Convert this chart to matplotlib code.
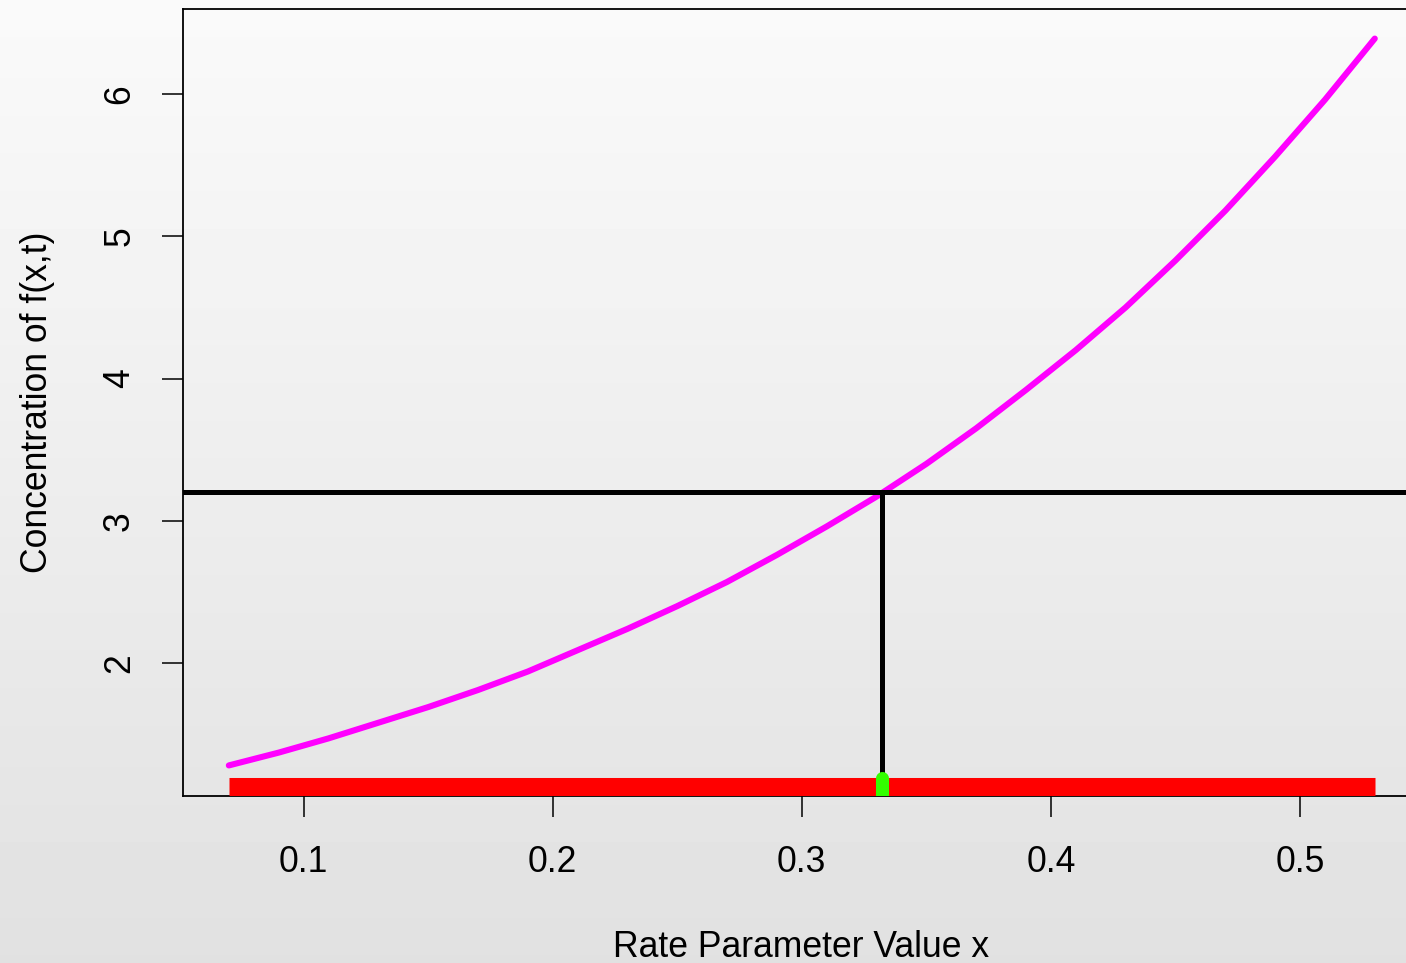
import numpy as np
import matplotlib
matplotlib.use("Agg")
import matplotlib.pyplot as plt

plt.rcParams['font.family'] = ['Liberation Sans', 'DejaVu Sans']

# curve values
rate_x = [0.07, 0.09, 0.11, 0.13, 0.15, 0.17, 0.19, 0.21, 0.23, 0.25, 0.27, 0.29,
          0.31, 0.33, 0.35, 0.37, 0.39, 0.41, 0.43, 0.45, 0.47, 0.49, 0.51, 0.53]
conc_y = [1.28, 1.37, 1.47, 1.58, 1.69, 1.81, 1.94, 2.09, 2.24, 2.40, 2.57, 2.76,
          2.96, 3.17, 3.40, 3.65, 3.92, 4.20, 4.50, 4.83, 5.18, 5.56, 5.96, 6.39]

target_level = 3.2
target_x = 0.3323
bar_range = [0.07, 0.53]
bar_level = 1.125
marker_top = 1.195

x_ticks = [0.1, 0.2, 0.3, 0.4, 0.5]
y_ticks = [2, 3, 4, 5, 6]

W, H = 1406, 963
fig = plt.figure(figsize=(W / 100, H / 100), dpi=100)

# gradient background
bg = fig.add_axes([0, 0, 1, 1], zorder=-10)
grad = np.linspace(250, 225, 256)[:, None] / 255.0
bg.imshow(np.repeat(grad, 2, axis=1), cmap='gray', vmin=0, vmax=1,
          aspect='auto', extent=[0, 1, 0, 1])
bg.axis('off')

left, right, top, bottom = 183, 1420.6, 9, 796
ax = fig.add_axes([left / W, 1 - bottom / H, (right - left) / W, (bottom - top) / H])
ax.set_facecolor('none')

ax.plot(rate_x, conc_y, color='#ff00ff', lw=4.4, solid_capstyle='round', zorder=3)
ax.axhline(target_level, color='black', lw=3.6, zorder=4)
ax.plot([target_x, target_x], [target_level, marker_top], color='black', lw=3.6,
        solid_capstyle='butt', zorder=4)
ax.plot(bar_range, [bar_level, bar_level], color='#ff0000', lw=13.7,
        solid_capstyle='butt', zorder=5)
ax.plot([target_x, target_x], [1.0, marker_top], color='#33ff00', lw=9.4,
        solid_capstyle='round', zorder=6)

ax.set_xlim(0.0516, 0.5484)
ax.set_ylim(1.065, 6.598)
ax.set_xticks(x_ticks)
ax.set_xticklabels([f"{v:.1f}" for v in x_ticks])
ax.set_yticks(y_ticks)
ax.set_yticklabels([str(v) for v in y_ticks], rotation=90, va='center')

for s in ax.spines.values():
    s.set_linewidth(1.3)
ax.tick_params(axis='both', length=15, width=1.1, labelsize=25.6, direction='out')
ax.tick_params(axis='x', pad=20)
ax.tick_params(axis='y', pad=18)

fig.text(801.5 / W, 1 - 957 / H, "Rate Parameter Value x", fontsize=25.6,
         ha='center', va='baseline')
fig.text(47 / W, 1 - 402 / H, "Concentration of f(x,t)", fontsize=25.6,
         rotation=90, rotation_mode='anchor', ha='center', va='baseline')

fig.savefig("out.png", dpi=100)
